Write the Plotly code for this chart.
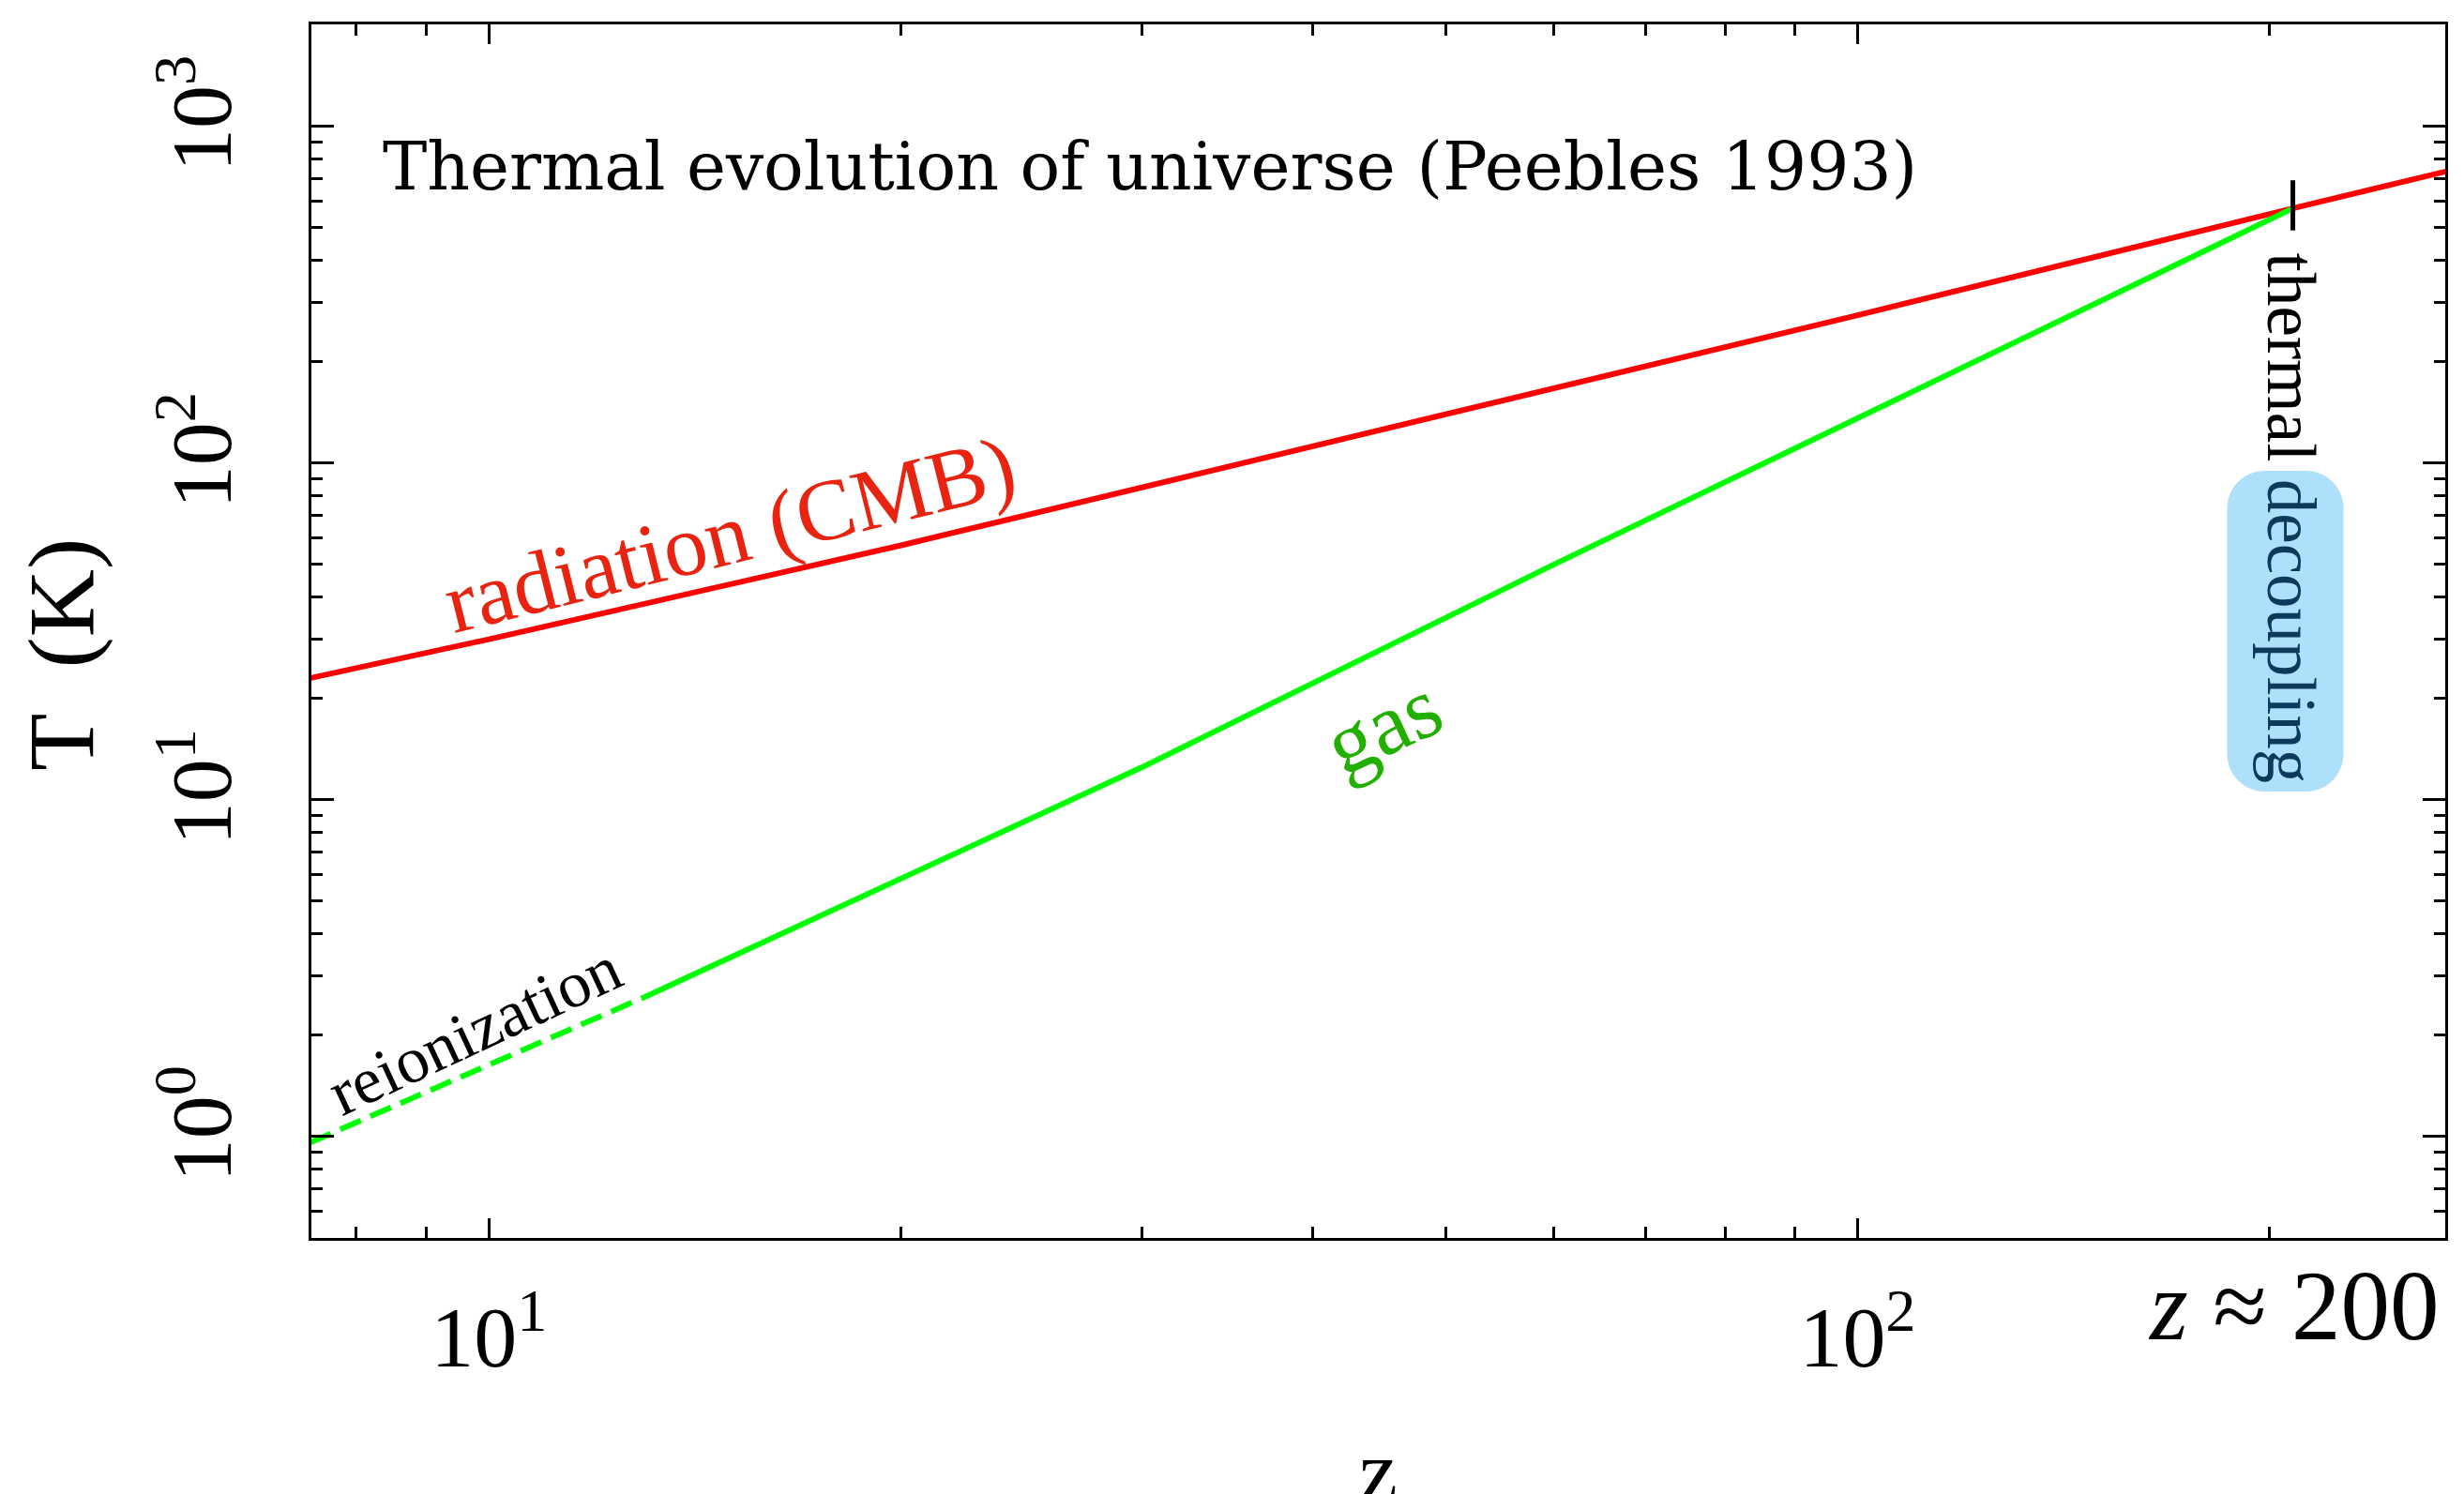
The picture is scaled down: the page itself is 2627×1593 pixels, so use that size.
import plotly.graph_objects as go

# values (log-log axes)
rad_z = [7.4, 10, 20, 50, 100, 208, 269]
rad_T = [23, 30, 57, 139, 275, 571, 735]

gas_z = [13, 30, 60, 100, 208]
gas_T = [2.6, 12.5, 50, 136, 571]

reion_z = [7.4, 13]
reion_T = [0.96, 2.6]

decoup_z = [208, 208]
decoup_T = [491, 692]

x_tickvals = [10, 100]
x_ticktext = ["10<sup>1</sup>", "10<sup>2</sup>"]
x_minor = [8, 9, 20, 30, 40, 50, 60, 70, 80, 90, 200]
y_tickvals = [1, 10, 100, 1000]
y_ticktext = ["10<sup>0</sup>", "10<sup>1</sup>", "10<sup>2</sup>", "10<sup>3</sup>"]
y_minor = [0.6, 0.7, 0.8, 0.9, 2, 3, 4, 5, 6, 7, 8, 9, 20, 30, 40, 50, 60, 70, 80, 90,
           200, 300, 400, 500, 600, 700, 800, 900]

fig = go.Figure()
fig.add_trace(go.Scatter(x=rad_z, y=rad_T, mode="lines", line=dict(color="#ff0000", width=6)))
fig.add_trace(go.Scatter(x=gas_z, y=gas_T, mode="lines", line=dict(color="#00ff00", width=6)))
fig.add_trace(go.Scatter(x=reion_z, y=reion_T, mode="lines",
                         line=dict(color="#00ff00", width=6, dash="24px,11px")))
fig.add_trace(go.Scatter(x=decoup_z, y=decoup_T, mode="lines", line=dict(color="black", width=5)))

tick_font = dict(family="Liberation Serif", size=92, color="black")
axis_common = dict(type="log", showgrid=False, zeroline=False, showline=True, linecolor="black",
                   linewidth=3, mirror="ticks", ticks="inside", tickwidth=3,
                   tickcolor="black", tickfont=tick_font, tickmode="array")
fig.update_xaxes(range=[0.8702, 2.4294], tickvals=x_tickvals, ticktext=x_ticktext,
                 ticklen=21, ticklabelstandoff=24,
                 minor=dict(tickvals=x_minor, ticks="inside", ticklen=12, tickwidth=3,
                            tickcolor="black", showgrid=False), **axis_common)
fig.update_yaxes(range=[-0.301, 3.303], tickvals=y_tickvals, ticktext=y_ticktext,
                 tickangle=-90, ticklen=24, ticklabelstandoff=46,
                 minor=dict(tickvals=y_minor, ticks="inside", ticklen=12, tickwidth=3,
                            tickcolor="black", showgrid=False), **axis_common)

# rounded box behind "decoupling" (paper coords, circular-ish corners)
x0, x1, y0, y1 = 0.8978, 0.9523, 0.3679, 0.6322
rx, ry = 40 / 2275, 40 / 1294
k = 0.5523
box = (f"M {x0+rx},{y0} L {x1-rx},{y0} "
       f"C {x1-rx+k*rx},{y0} {x1},{y0+ry-k*ry} {x1},{y0+ry} L {x1},{y1-ry} "
       f"C {x1},{y1-ry+k*ry} {x1-rx+k*rx},{y1} {x1-rx},{y1} L {x0+rx},{y1} "
       f"C {x0+rx-k*rx},{y1} {x0},{y1-ry+k*ry} {x0},{y1-ry} L {x0},{y0+ry} "
       f"C {x0},{y0+ry-k*ry} {x0+rx-k*rx},{y0} {x0+rx},{y0} Z")
fig.add_shape(type="path", path=box, xref="paper", yref="paper",
              fillcolor="#aee0fb", line=dict(width=0), layer="below")

label = dict(xref="paper", yref="paper", showarrow=False, xanchor="center", yanchor="middle")
fig.add_annotation(text="Thermal evolution of universe (Peebles 1993)", x=0.0325, y=0.8833,
                   font=dict(family="DejaVu Serif", size=71, color="black"),
                   **{**label, "xanchor": "left"})
fig.add_annotation(text="radiation (CMB)", x=0.196, y=0.580, textangle=-14,
                   font=dict(family="Liberation Serif", size=93, color="#e8230f"), **label)
fig.add_annotation(text="gas", x=0.502, y=0.4227, textangle=-25,
                   font=dict(family="Liberation Serif", size=93, color="#22b000"), **label)
fig.add_annotation(text="reionization", x=0.0765, y=0.171, textangle=-25,
                   font=dict(family="Liberation Serif", size=70, color="black"), **label)
fig.add_annotation(text="thermal <span style='color:#0b3a5c'>decoupling</span>",
                   x=0.9275, y=0.593, textangle=90,
                   font=dict(family="Liberation Serif", size=73, color="black"), **label)
fig.add_annotation(text="<i>z</i> ≈ 200", x=0.9288, y=-0.056,
                   font=dict(family="Liberation Serif", size=105, color="black"), **label)
fig.add_annotation(text="z", x=0.5002, y=-0.192, font=tick_font, **label)
fig.add_annotation(text="T  (K)", x=-0.117, y=0.4807, textangle=-90,
                   font=dict(family="Liberation Serif", size=100, color="black"), **label)

fig.update_layout(width=2627, height=1593, showlegend=False, plot_bgcolor="white",
                  paper_bgcolor="white", margin=dict(l=324, r=28, t=18, b=281))
fig.write_html("out.html")
